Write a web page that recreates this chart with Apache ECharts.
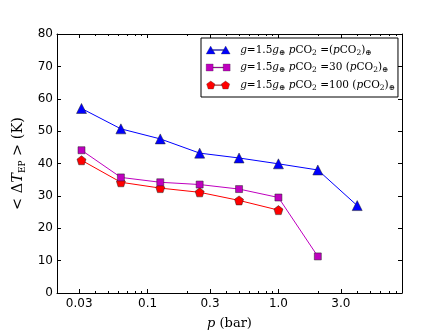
<!DOCTYPE html>
<html>
<head>
<meta charset="utf-8">
<script src="https://cdn.jsdelivr.net/npm/echarts@6/dist/echarts.min.js"></script>
<style>html,body{margin:0;padding:0;background:#fff}#c{width:447px;height:335px}</style>
</head>
<body>
<div id="c"></div>
<script>
// ---- data ----
const pressures = [0.03125, 0.0625, 0.125, 0.25, 0.5, 1, 2, 4];
const seriesNames = ['g=1.5g⊕ pCO2 =(pCO2)⊕', 'g=1.5g⊕ pCO2 =30 (pCO2)⊕', 'g=1.5g⊕ pCO2 =100 (pCO2)⊕'];
const dtBase = [57.0, 50.7, 47.6, 43.2, 41.7, 39.9, 38.0, 27.0];
const dt30 = [44.1, 35.7, 34.2, 33.5, 32.1, 29.5, 11.3];
const dt100 = [41.0, 34.2, 32.4, 31.1, 28.6, 25.6];
const xTickValues = [0.03, 0.1, 0.3, 1.0, 3.0];
const xTickLabels = ['0.03', '0.1', '0.3', '1.0', '3.0'];
const xMinorTicks = [0.04,0.05,0.06,0.07,0.08,0.09,0.2,0.4,0.5,0.6,0.7,0.8,0.9,2,4,5,6,7,8];
const xRange = [0.0203, 8.8];
const yRange = [0, 80];
const yInterval = 10;

const L = Math.log10;
const colors = ['#0000ff', '#bf00bf', '#ff0000'];
const pent = 'path://M4.5,0 L8.78,3.11 L7.15,8.14 L1.85,8.14 L0.22,3.11 Z';
const symbols = ['triangle', 'rect', pent];
const sizes = [10, 7, 9];
const icons = [
  'path://M0,8 L4.5,0 L9,8 Z M15,8 L19.5,0 L24,8 Z M4.5,3.6 H19.5 V4.4 H4.5 Z',
  'path://M0,0.5 H7 V7.5 H0 Z M17,0.5 H24 V7.5 H17 Z M7,3.6 H17 V4.4 H7 Z',
  'path://M4.5,0 L8.78,3.11 L7.15,8.14 L1.85,8.14 L0.22,3.11 Z M19.5,0 L23.78,3.11 L22.15,8.14 L16.85,8.14 L15.22,3.11 Z M8,3.8 H16 V4.6 H8 Z'
];
const allVals = [dtBase, dt30, dt100];
const legendMid = ['=(', '=30 (', '=100 ('];

const serif = 'DejaVu Serif';
const rich = {
  r: {fontFamily: serif, fontSize: 10.5, color: '#000', lineHeight: 14, verticalAlign: 'middle'},
  i: {fontFamily: serif, fontStyle: 'italic', fontSize: 10.5, color: '#000', lineHeight: 14, verticalAlign: 'middle'},
  s: {fontFamily: serif, fontSize: 7.5, color: '#000', lineHeight: 14, verticalAlign: 'bottom'}
};

const axisLine = {show: true, onZero: false, lineStyle: {color: '#000', width: 1}};
function xAx(pos, minor, labels) {
  const vals = (minor ? xMinorTicks : xTickValues).map(L);
  return {
    type: 'value', position: pos, min: L(xRange[0]), max: L(xRange[1]),
    axisLine: minor ? {show: false, onZero: false} : axisLine,
    splitLine: {show: false},
    axisTick: {show: true, inside: true, length: minor ? 2 : 4, customValues: vals, lineStyle: {color: '#000', width: 1}},
    axisLabel: labels ? {
      show: true, customValues: vals, margin: 5, color: '#000', fontFamily: 'DejaVu Sans', fontSize: 12,
      formatter: v => { let bi = 0, bd = 1e9; xTickValues.forEach((t, k) => { const d = Math.abs(L(t) - v); if (d < bd) { bd = d; bi = k; } }); return xTickLabels[bi]; }
    } : {show: false},
    name: labels ? '{i|p}{r| (bar)}' : '',
    nameLocation: 'middle', nameGap: 24,
    nameTextStyle: {rich: {
      r: {fontFamily: serif, fontSize: 13, color: '#000'},
      i: {fontFamily: serif, fontStyle: 'italic', fontSize: 13, color: '#000'}
    }}
  };
}

const series = allVals.map((vals, k) => ({
  name: seriesNames[k], type: 'line',
  data: vals.map((v, j) => [L(pressures[j]), v]),
  symbol: symbols[k], symbolSize: sizes[k],
  lineStyle: {color: colors[k], width: 1},
  itemStyle: {color: colors[k], borderColor: '#222', borderWidth: 0.5},
  z: 3 - k
}));

const chart = echarts.init(document.getElementById('c'), null, {renderer: 'canvas'});
chart.setOption({
  animation: false,
  backgroundColor: '#fff',
  grid: {left: 57, right: 45, top: 34, bottom: 34, containLabel: false},
  legend: {
    orient: 'vertical', left: 201, top: 38,
    padding: [6, 3, 5, 5], itemGap: 4.5, itemWidth: 24, itemHeight: 8,
    borderColor: '#000', borderWidth: 1, backgroundColor: '#fff',
    itemStyle: {borderWidth: 0.3, borderColor: '#333'},
    data: seriesNames.map((n, k) => ({name: n, icon: icons[k]})),
    formatter: name => {
      const k = seriesNames.indexOf(name);
      return '{i|g}{r|=1.5}{i|g}{s|⊕} {i|p}{r|CO}{s|2}{r| ' + legendMid[k] + '}{i|p}{r|CO}{s|2}{r|)}{s|⊕}';
    },
    textStyle: {rich: rich, padding: [0, 0, 0, 5]}
  },
  xAxis: [xAx('bottom', false, true), xAx('bottom', true, false), xAx('top', false, false), xAx('top', true, false)],
  yAxis: [
    {type: 'value', position: 'left', min: yRange[0], max: yRange[1], interval: yInterval,
     axisLine: axisLine, splitLine: {show: false},
     axisTick: {show: true, inside: true, length: 4, lineStyle: {color: '#000'}},
     axisLabel: {color: '#000', fontFamily: 'DejaVu Sans', fontSize: 12, margin: 4},
     name: '{r|< Δ}{i|T}{s|EP}{r| > (K)}', nameLocation: 'middle', nameGap: 27, nameRotate: 90,
     nameTextStyle: {rich: {
       r: {fontFamily: serif, fontSize: 14.5, color: '#000', lineHeight: 18, verticalAlign: 'middle'},
       i: {fontFamily: serif, fontStyle: 'italic', fontSize: 14.5, color: '#000', lineHeight: 18, verticalAlign: 'middle'},
       s: {fontFamily: serif, fontSize: 9, color: '#000', lineHeight: 18, verticalAlign: 'bottom'}
     }}},
    {type: 'value', position: 'right', min: yRange[0], max: yRange[1], interval: yInterval,
     axisLine: axisLine, splitLine: {show: false},
     axisTick: {show: true, inside: true, length: 4, lineStyle: {color: '#000'}},
     axisLabel: {show: false}}
  ],
  series: series
});
</script>
</body>
</html>
